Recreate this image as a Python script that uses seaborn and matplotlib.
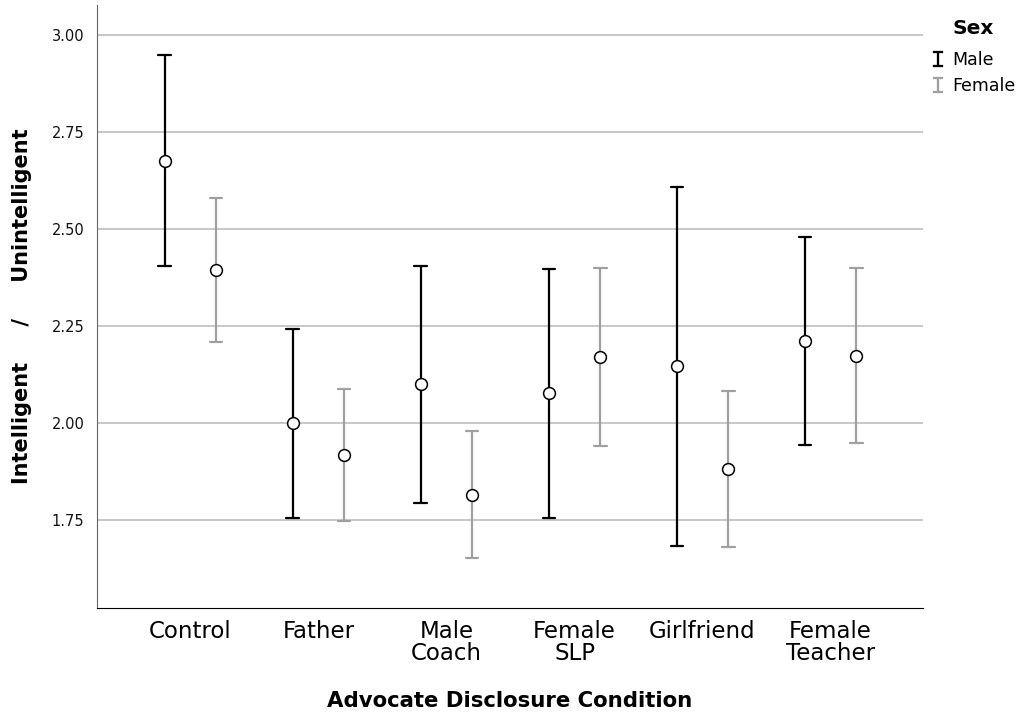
import pandas as pd
import numpy as np
import matplotlib
matplotlib.use("Agg")
import matplotlib.pyplot as plt
import seaborn as sns
from matplotlib.lines import Line2D

# Values: mean and 95% CI bounds per condition and sex
conditions = ["Control", "Father", "Male\nCoach", "Female\nSLP", "Girlfriend", "Female\nTeacher"]
sexes = ["Male", "Female"]

male_mean = [2.675, 1.999, 2.099, 2.076, 2.147, 2.212]
male_low = [2.404, 1.756, 1.793, 1.754, 1.684, 1.943]
male_high = [2.947, 2.241, 2.405, 2.397, 2.609, 2.480]

female_mean = [2.394, 1.917, 1.815, 2.170, 1.881, 2.173]
female_low = [2.209, 1.746, 1.652, 1.941, 1.679, 1.948]
female_high = [2.580, 2.088, 1.979, 2.399, 2.083, 2.398]

colors = {"Male": "#000000", "Female": "#a0a0a0"}

# long table: low / mean / high rows, median gives the mean, 100% interval gives the CI
rows = []
for sex, lo, mid, hi in [("Male", male_low, male_mean, male_high),
                         ("Female", female_low, female_mean, female_high)]:
    for cond, a, b, c in zip(conditions, lo, mid, hi):
        for v in (a, b, c):
            rows.append({"condition": cond, "sex": sex, "value": v})
df = pd.DataFrame(rows)

sns.set_style("white")
plt.rcParams["font.family"] = ["DejaVu Sans"]
plt.rcParams["text.color"] = "black"
plt.rcParams["axes.labelcolor"] = "black"

fig = plt.figure(figsize=(10.23, 7.19), dpi=100)
ax = fig.add_axes([0.0948, 0.1544, 0.8072, 0.8386])

sns.pointplot(data=df, x="condition", y="value", hue="sex", order=conditions,
              hue_order=sexes, palette=colors, estimator="median",
              errorbar=("pi", 100), dodge=0.40, linestyle="none",
              capsize=0.1, err_kws={"linewidth": 1.6}, markersize=8.5,
              ax=ax, legend=False)

for ln in ax.lines:
    if ln.get_marker() == "o":
        ln.set_markerfacecolor("white")
        ln.set_markeredgecolor("black")
        ln.set_markeredgewidth(1.1)
        ln.set_zorder(5)

ax.set_ylim(1.523, 3.077)
ax.set_xlim(-0.73, 5.72)
ax.set_yticks([1.75, 2.00, 2.25, 2.50, 2.75, 3.00])
ax.set_yticklabels(["1.75", "2.00", "2.25", "2.50", "2.75", "3.00"])
ax.yaxis.grid(True, color="#bdbdbd", linewidth=1.2)
ax.set_axisbelow(True)
ax.tick_params(axis="y", length=0, pad=9, labelsize=10.5, labelcolor="#111111")
ax.tick_params(axis="x", length=0, pad=9, labelsize=16.5, labelcolor="black")
for lab in ax.get_xticklabels():
    lab.set_linespacing(0.9)

for s in ["top", "right"]:
    ax.spines[s].set_visible(False)
ax.spines["left"].set_color("#666666")
ax.spines["bottom"].set_color("#000000")

ax.set_xlabel("Advocate Disclosure Condition", fontsize=15.3, fontweight="bold", labelpad=19)
ax.set_ylabel("Intelligent     /     Unintelligent", fontsize=15, fontweight="bold", labelpad=14)

handles = [Line2D([], [], linestyle="none", marker=r"$\mathtt{I}$", color=colors[s],
                  markersize=12, markeredgewidth=0.2) for s in sexes]
fig.legend(handles, sexes, loc="upper left",
           bbox_to_anchor=(0.910, 0.929), frameon=False, fontsize=12.5,
           handlelength=0.8, handletextpad=0.45, labelspacing=0.45,
           borderpad=0, borderaxespad=0)
fig.text(953 / 1023, 1 - 28 / 719, "Sex", fontsize=14.5, fontweight="bold", va="center", ha="left")

fig.savefig("out.png", dpi=100)
